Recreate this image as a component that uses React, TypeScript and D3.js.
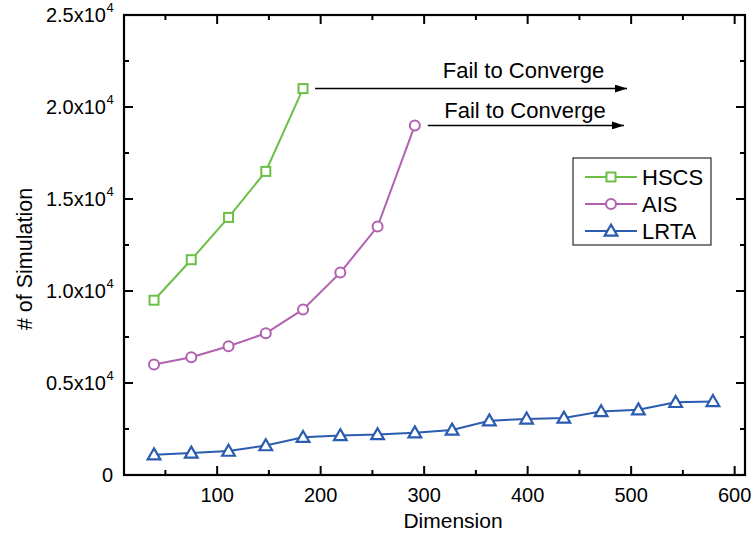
import React from "react";
import * as d3 from "d3";

const dimsLRTA = [39, 75, 111, 147, 183, 219, 255, 291, 327, 363, 399, 435, 471, 507, 543, 579];
const hscsValues = [9500, 11700, 14000, 16500, 21000];
const aisValues = [6000, 6400, 7000, 7700, 9000, 11000, 13500, 19000];
const lrtaValues = [1100, 1200, 1300, 1600, 2050, 2150, 2200, 2300, 2450, 2950, 3050, 3100, 3450, 3550, 3950, 4000];
const xTicks = [100, 200, 300, 400, 500, 600];
const yTicks = [0, 5000, 10000, 15000, 20000, 25000];
const yTickLabels = ["0", "0.5x10", "1.0x10", "1.5x10", "2.0x10", "2.5x10"];
const seriesNames = ["HSCS", "AIS", "LRTA"];
const failLabel = "Fail to Converge";

const W = 753, H = 534;
const m = { left: 124, right: 745, top: 15, bottom: 475 };
const FONT = "Liberation Sans, Arial, sans-serif";

export default function App() {
  const x = d3.scaleLinear().domain([10, 610]).range([m.left, m.right]);
  const y = d3.scaleLinear().domain([0, 25000]).range([m.bottom, m.top]);
  const colors = ["#6cbf45", "#b061b0", "#2b5cb0"];
  const series = [
    { name: seriesNames[0], vals: hscsValues, color: colors[0], marker: "square" },
    { name: seriesNames[1], vals: aisValues, color: colors[1], marker: "circle" },
    { name: seriesNames[2], vals: lrtaValues, color: colors[2], marker: "triangle" },
  ];
  const line = d3.line<[number, number]>().x(d => x(d[0])).y(d => y(d[1]));

  const marker = (type: string, cx: number, cy: number, color: string, key: string) => {
    if (type === "square") return <rect key={key} x={cx - 4.5} y={cy - 4.5} width={9} height={9} fill="white" stroke={color} strokeWidth={2} />;
    if (type === "circle") return <circle key={key} cx={cx} cy={cy} r={5} fill="white" stroke={color} strokeWidth={2} />;
    const s = d3.symbol(d3.symbolTriangle, 70)();
    return <path key={key} d={s || ""} transform={`translate(${cx},${cy + 1})`} fill="white" stroke={color} strokeWidth={2.2} strokeLinejoin="miter" />;
  };

  const xMinor = d3.range(50, 610, 100);
  const yMinor = d3.range(2500, 25000, 5000);

  const hsLast: [number, number] = [dimsLRTA[hscsValues.length - 1], hscsValues[hscsValues.length - 1]];
  const aisLast: [number, number] = [dimsLRTA[aisValues.length - 1], aisValues[aisValues.length - 1]];

  return (
    <svg width={W} height={H} style={{ position: "absolute", left: 0, top: 0 }} fontFamily={FONT}>
      <defs>
        <marker id="arr" viewBox="0 0 12 8" refX={12} refY={4} markerWidth={12} markerHeight={8} markerUnits="userSpaceOnUse" orient="auto">
          <path d="M0,0 L12,4 L0,8 Z" fill="black" />
        </marker>
      </defs>
      <rect width={W} height={H} fill="white" />
      {/* ticks */}
      {xTicks.map(t => (
        <g key={"xt" + t}>
          <line x1={x(t)} x2={x(t)} y1={m.bottom} y2={m.bottom - 9} stroke="black" strokeWidth={2} />
          <line x1={x(t)} x2={x(t)} y1={m.top} y2={m.top + 9} stroke="black" strokeWidth={2} />
          <text x={x(t)} y={m.bottom + 27} fontSize={20} textAnchor="middle">{t}</text>
        </g>
      ))}
      {xMinor.map(t => (
        <g key={"xm" + t}>
          <line x1={x(t)} x2={x(t)} y1={m.bottom} y2={m.bottom - 5} stroke="black" strokeWidth={2} />
          <line x1={x(t)} x2={x(t)} y1={m.top} y2={m.top + 5} stroke="black" strokeWidth={2} />
        </g>
      ))}
      {yTicks.map((t, i) => (
        <g key={"yt" + t}>
          <line x1={m.left} x2={m.left + 9} y1={y(t)} y2={y(t)} stroke="black" strokeWidth={2} />
          <line x1={m.right} x2={m.right - 9} y1={y(t)} y2={y(t)} stroke="black" strokeWidth={2} />
          {i === 0 ? (
            <text x={113} y={y(t) + 7} fontSize={20} textAnchor="end">{yTickLabels[i]}</text>
          ) : (
            <text x={106} y={y(t) + 7} fontSize={20} textAnchor="end">
              {yTickLabels[i]}
            </text>
          )}
          {i > 0 && <text x={106.5} y={y(t) - 3} fontSize={13}>4</text>}
        </g>
      ))}
      {yMinor.map(t => (
        <g key={"ym" + t}>
          <line x1={m.left} x2={m.left + 5} y1={y(t)} y2={y(t)} stroke="black" strokeWidth={2} />
          <line x1={m.right} x2={m.right - 5} y1={y(t)} y2={y(t)} stroke="black" strokeWidth={2} />
        </g>
      ))}
      <rect x={m.left} y={m.top} width={m.right - m.left} height={m.bottom - m.top} fill="none" stroke="black" strokeWidth={2.2} />

      {/* series */}
      {series.map(s => {
        const pts: [number, number][] = s.vals.map((v, i) => [dimsLRTA[i], v]);
        return (
          <g key={s.name}>
            <path d={line(pts) || ""} fill="none" stroke={s.color} strokeWidth={2} />
            {pts.map((p, i) => marker(s.marker, x(p[0]), y(p[1]), s.color, s.name + i))}
          </g>
        );
      })}

      {/* arrows */}
      <line x1={x(hsLast[0]) + 12} x2={627} y1={y(hsLast[1])} y2={y(hsLast[1])} stroke="black" strokeWidth={1.5} markerEnd="url(#arr)" />
      <text x={523.5} y={78} fontSize={22} textAnchor="middle">{failLabel}</text>
      <line x1={x(aisLast[0]) + 13} x2={624} y1={y(aisLast[1])} y2={y(aisLast[1])} stroke="black" strokeWidth={1.5} markerEnd="url(#arr)" />
      <text x={525} y={118} fontSize={22} textAnchor="middle">{failLabel}</text>

      {/* legend */}
      <rect x={573} y={158} width={138} height={87} fill="white" stroke="black" strokeWidth={1} />
      {series.map((s, i) => {
        const ly = 177 + i * 27;
        return (
          <g key={"lg" + s.name}>
            <line x1={585} x2={637} y1={ly} y2={ly} stroke={s.color} strokeWidth={2} />
            {marker(s.marker, 611, ly, s.color, "lm" + i)}
            <text x={642} y={ly + 8} fontSize={22}>{s.name}</text>
          </g>
        );
      })}

      {/* axis titles */}
      <text x={453} y={528} fontSize={21} textAnchor="middle">Dimension</text>
      <text transform={`translate(32,${259}) rotate(-90)`} fontSize={21.5} textAnchor="middle">{"# of Simulation"}</text>
    </svg>
  );
}
